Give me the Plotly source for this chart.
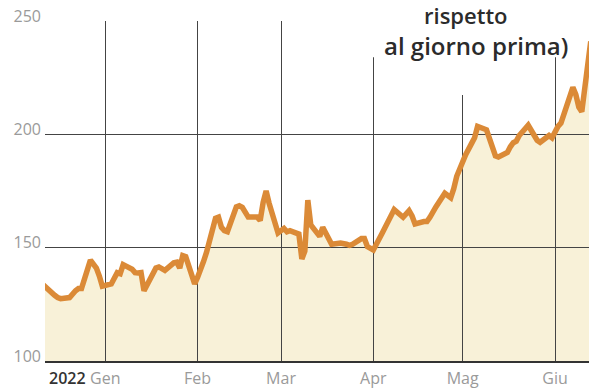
import pandas as pd
import plotly.graph_objects as go

# Daily closing values, one list per month (business days only)
dec_2021 = [135, 131, 130, 129, 128, 127.5, 128, 130, 131, 132, 132, 144.5, 143, 141, 137.5, 133]
jan_2022 = [134, 137, 139, 138.5, 142.5, 140.5, 139, 138.8, 139, 131,
            139.5, 141, 141.5, 141, 140, 143.3, 143.6, 141, 146.5, 146, 134]
feb_2022 = [137, 140, 144, 148, 163, 163.5, 159, 157.5, 157, 168,
            168.5, 167.8, 165.5, 163.5, 163.5, 162, 170, 175, 169.6, 156.5]
mar_2022 = [157.5, 158.5, 157, 157.5, 156, 145, 148.5, 171, 160, 155, 159, 156,
            153.5, 151.5, 152, 152, 151.5, 151, 151.5, 154, 154, 150.5, 149.5]
apr_2022 = [149, 156.5, 159, 160.8, 164.5, 166.8, 163.4, 165, 166.3, 164, 160.5,
            161.5, 161.5, 163.4, 166, 168, 174, 173, 172, 176, 181.5]
may_2022 = [191, 193, 196, 198.5, 203.5, 202, 197.5, 194.3, 190.5, 190, 192,
            194.5, 196.3, 197, 199.5, 204, 201.5, 199, 197.4, 196.5, 199.5, 198.5]
jun_2022 = [201.5, 203.5, 205, 217.5, 220.7, 217.5, 212, 210, 241]

values = dec_2021 + jan_2022 + feb_2022 + mar_2022 + apr_2022 + may_2022 + jun_2022
dates = pd.bdate_range("2021-12-10", "2022-06-13")
assert len(dates) == len(values)

month_ticks = ["2022-01-01", "2022-02-01", "2022-03-01", "2022-04-01", "2022-05-01", "2022-06-01"]
month_labels = ["Gen", "Feb", "Mar", "Apr", "Mag", "Giu"]
y_ticks = [100, 150, 200, 250]
year_label = "2022"
note_lines = ["rispetto", "al giorno prima)"]

x_range = ["2021-12-11 18:00", "2022-06-12 10:00"]
y_range = [100, 250]

ORANGE = "#DB8A37"
CREAM = "#F8F1D8"
GRID = "#444444"
TICK = "#9a9a9a"

fig = go.Figure()

# area under the curve lives on the lower subplot so the grid can sit on top of it
fig.add_trace(go.Scatter(
    x=dates, y=values, mode="none", fill="tozeroy", fillcolor=CREAM,
    xaxis="x", yaxis="y", hoverinfo="skip", showlegend=False,
))
# the price line sits on the upper subplot, above its own grid
fig.add_trace(go.Scatter(
    x=dates, y=values, mode="lines",
    line=dict(color=ORANGE, width=5.5, shape="linear"),
    xaxis="x2", yaxis="y2", hoverinfo="skip", showlegend=False,
))

tick_font = dict(family="Open Sans, sans-serif", size=16, color=TICK)

fig.update_layout(
    width=589, height=392,
    margin=dict(l=45, r=0, t=21, b=31),
    paper_bgcolor="white",
    plot_bgcolor="rgba(0,0,0,0)",
    showlegend=False,
    hovermode=False,
    xaxis=dict(domain=[0, 1], range=x_range, visible=False, fixedrange=True),
    yaxis=dict(domain=[0, 1], range=y_range, visible=False, fixedrange=True),
    xaxis2=dict(
        domain=[0, 1], anchor="y2", range=x_range,
        tickmode="array", tickvals=month_ticks, ticktext=month_labels,
        showgrid=True, gridcolor=GRID, gridwidth=1,
        showline=True, linecolor="#333333", linewidth=2,
        ticks="", ticklabelstandoff=2, tickfont=tick_font,
        zeroline=False, fixedrange=True,
    ),
    yaxis2=dict(
        domain=[0, 1], anchor="x2", range=y_range,
        tickmode="array", tickvals=y_ticks,
        showgrid=True, gridcolor=GRID, gridwidth=1,
        showline=False, zeroline=False,
        ticks="", ticklabelstandoff=3, ticklabelshift=-5, tickfont=tick_font,
        fixedrange=True,
    ),
)

# white panel behind the caption, hiding the top of the grid there
mask = dict(type="rect", xref="x2", yref="y2", layer="between",
            fillcolor="white", line=dict(width=0))
fig.add_shape(**mask, x0="2022-03-24 05:00", x1="2022-06-13", y0=239, y1=252)
fig.add_shape(**mask, x0="2022-03-24 05:00", x1="2022-06-07 10:00", y0=234, y1=240)
fig.add_shape(**mask, x0="2022-04-10", x1="2022-05-20 07:00", y0=217.4, y1=234.5)

fig.add_annotation(
    text=year_label, xref="paper", yref="paper", x=0.004, y=-0.05,
    xanchor="left", yanchor="middle", showarrow=False,
    font=dict(family="Open Sans, sans-serif", size=16, color="#333333", weight=600),
)
fig.add_annotation(
    text=note_lines[0], xref="paper", yref="paper", x=0.774, y=1.0176,
    xanchor="center", yanchor="middle", showarrow=False,
    font=dict(family="Open Sans, sans-serif", size=22, color="#2b2b2b", weight=600),
)
fig.add_annotation(
    text=note_lines[1], xref="paper", yref="paper", x=0.792, y=0.927,
    xanchor="center", yanchor="middle", showarrow=False,
    font=dict(family="Open Sans, sans-serif", size=24, color="#2b2b2b", weight=600),
)

fig.write_html("out.html", config={"displayModeBar": False})
